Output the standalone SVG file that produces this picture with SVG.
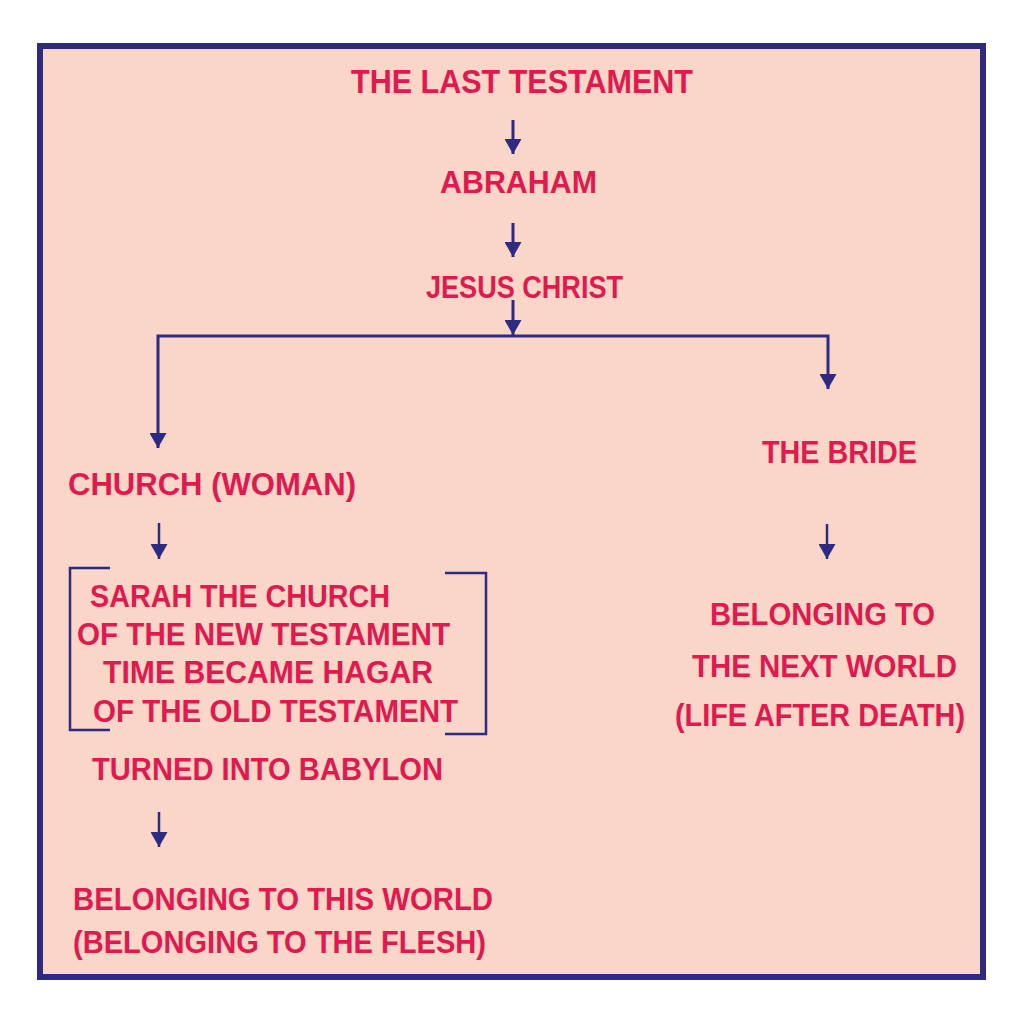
<svg xmlns="http://www.w3.org/2000/svg" width="1024" height="1024" viewBox="0 0 1024 1024">
<style>
.t{font-family:"Liberation Sans",Arial,sans-serif;font-weight:bold;font-size:31px;fill:#e0194f}
.big{font-size:34px}
.c{fill:none;stroke:#2e2a84;stroke-width:3}
.s{fill:none;stroke:#2e2a84;stroke-width:2.5}
</style>
<defs>
<marker id="ah" markerUnits="userSpaceOnUse" markerWidth="15" markerHeight="17" refX="15" refY="8.5" orient="auto">
<path d="M0,0 L15,8.5 L0,17 Z" fill="#2e2a84"/>
</marker>
</defs>
<rect x="0" y="0" width="1024" height="1024" fill="#ffffff"/>
<rect x="40" y="46" width="943" height="931" fill="#f9d6c8" stroke="#2e2a84" stroke-width="6"/>
<g id="connectors">
<path class="c" d="M513,120 V154" marker-end="url(#ah)"/>
<path class="c" d="M513,223 V257" marker-end="url(#ah)"/>
<path class="c" d="M513,300 V335" marker-end="url(#ah)"/>
<path class="c" d="M513,336 H158 V448" marker-end="url(#ah)"/>
<path class="c" d="M513,336 H828 V389" marker-end="url(#ah)"/>
<path class="s" d="M159,523 V559" marker-end="url(#ah)"/>
<path class="s" d="M827,524 V559" marker-end="url(#ah)"/>
<path class="s" d="M159,812 V847" marker-end="url(#ah)"/>
<path class="s" d="M110,568 H70 V730 H110"/>
<path class="s" d="M445,573 H486 V734 H445"/>
</g>
<g id="n-title"><text class="t big" x="351" y="93" textLength="342" lengthAdjust="spacingAndGlyphs">THE LAST TESTAMENT</text></g>
<g id="n-abraham"><text class="t" x="440" y="193" textLength="157" lengthAdjust="spacingAndGlyphs">ABRAHAM</text></g>
<g id="n-jesus"><text class="t" x="426" y="298" textLength="197" lengthAdjust="spacingAndGlyphs">JESUS CHRIST</text></g>
<g id="n-church"><text class="t" x="68" y="495" textLength="288" lengthAdjust="spacingAndGlyphs">CHURCH (WOMAN)</text></g>
<g id="n-sarah">
<text class="t" x="90" y="607" textLength="300" lengthAdjust="spacingAndGlyphs">SARAH THE CHURCH</text>
<text class="t" x="77" y="645" textLength="373" lengthAdjust="spacingAndGlyphs">OF THE NEW TESTAMENT</text>
<text class="t" x="103" y="683" textLength="330" lengthAdjust="spacingAndGlyphs">TIME BECAME HAGAR</text>
<text class="t" x="93" y="722" textLength="365" lengthAdjust="spacingAndGlyphs">OF THE OLD TESTAMENT</text>
</g>
<g id="n-babylon"><text class="t" x="92" y="780" textLength="351" lengthAdjust="spacingAndGlyphs">TURNED INTO BABYLON</text></g>
<g id="n-thisworld">
<text class="t" x="73" y="910" textLength="420" lengthAdjust="spacingAndGlyphs">BELONGING TO THIS WORLD</text>
<text class="t" x="73" y="953" textLength="413" lengthAdjust="spacingAndGlyphs">(BELONGING TO THE FLESH)</text>
</g>
<g id="n-bride"><text class="t" x="762" y="463" textLength="155" lengthAdjust="spacingAndGlyphs">THE BRIDE</text></g>
<g id="n-nextworld">
<text class="t" x="710" y="625" textLength="225" lengthAdjust="spacingAndGlyphs">BELONGING TO</text>
<text class="t" x="692" y="677" textLength="265" lengthAdjust="spacingAndGlyphs">THE NEXT WORLD</text>
<text class="t" x="675" y="726" textLength="290" lengthAdjust="spacingAndGlyphs">(LIFE AFTER DEATH)</text>
</g>
</svg>
